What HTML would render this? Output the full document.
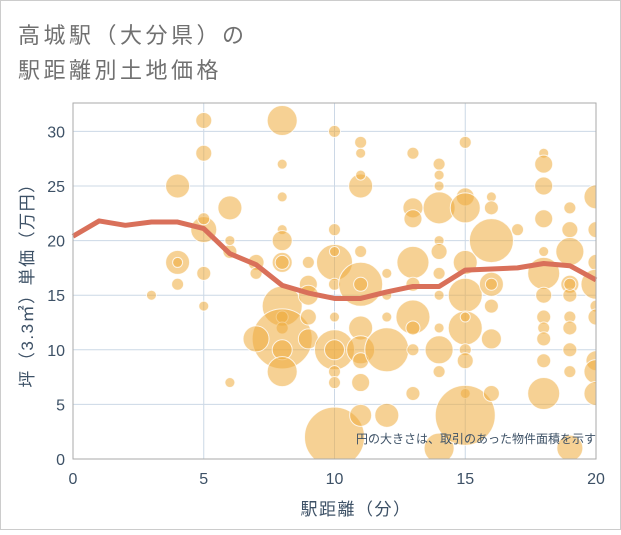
<!DOCTYPE html>
<html><head><meta charset="utf-8">
<style>
body{margin:0;background:#fff;font-family:"Liberation Sans","Noto Sans CJK JP",sans-serif;}
#wrap{position:relative;width:621px;height:530px;}
</style></head>
<body>
<div id="wrap">
<svg id="chart" width="621" height="530">
  <rect x="0.5" y="0.5" width="620" height="529" fill="#fff" stroke="#ccc"/>
  <text x="18" y="43" font-size="22" letter-spacing="3.5" fill="#707070">高城駅（大分県）の</text>
  <text x="18" y="78" font-size="22" letter-spacing="3.5" fill="#707070">駅距離別土地価格</text>
  <g id="grid"></g>
  <g id="bubbles"></g>
  <g id="line"></g>
  <g id="axes"></g>
  <text x="596" y="443" font-size="12" fill="#3d5166" text-anchor="end">円の大きさは、取引のあった物件面積を示す</text>
  <text x="356" y="515" font-size="17" letter-spacing="1.5" fill="#3d5166" text-anchor="middle">駅距離（分）</text>
  <text transform="translate(33,281) rotate(-90)" font-size="17" letter-spacing="1.5" fill="#3d5166" text-anchor="middle">坪（3.3㎡）単価（万円）</text>
</svg>
</div>
<script>
const xTicks=[0,5,10,15,20];
const yTicks=[0,5,10,15,20,25,30];
const lineX=[0,1,2,3,4,5,6,7,8,9,10,11,12,13,14,15,16,17,18,19,20];
const lineY=[20.4,21.8,21.4,21.7,21.7,21.1,18.8,17.8,15.9,15.2,14.7,14.7,15.3,15.8,15.8,17.3,17.4,17.5,17.9,17.7,16.4];
const bubbleX=[3,4,4,4,4,5,5,5,5,5,5,6,6,6,6,7,7,8,8,8,8,8,8,8,8,8,8,8,8,8,7,9,9,9,9,9,10,10,10,10,10,10,10,10,10,10,10,11,11,11,11,11,11,11,11,11,11,11,11,12,12,12,12,12,13,13,13,13,13,13,13,13,13,14,14,14,14,14,14,14,14,14,14,14,14,15,15,15,15,15,15,15,15,15,15,15,16,16,16,16,16,16,16,16,17,18,18,18,18,18,18,18,18,18,18,18,18,19,19,19,19,19,19,19,19,19,19,19,20,20,20,20,20,20,20,20,20];
const bubbleY=[15,25,18,18,16,31,28,21,22,17,14,23,19,20,7,18,17,31,27,24,21,20,18,18,14,13,12,11,10,8,11,16,15,13,11,18,30,21,18,19,16,13,10,10,8,7,2,29,28,25,26,19,16,16,12,10,9,7,4,10,17,15,13,4,28,23,22,18,16,13,12,10,6,27,26,25,23,20,19,17,15,12,10,8,1,29,24,23,18,15,12,13,10,9,6,4,20,24,23,16,16,14,11,6,21,28,27,25,22,19,17,15,13,12,11,9,6,23,21,19,16,15,13,12,10,8,1,16,24,21,18,16,14,13,9,8,6];
const bubbleSize=[5,12,12,5,6,8,8,13,6,7,5,12,7,5,5,8,6,15,5,5,5,10,10,7,20,6,6,30,10,15,13,9,10,8,10,6,6,6,18,5,6,5,20,10,6,6,30,6,5,12,5,6,22,7,12,14,8,9,11,22,5,5,5,12,6,10,9,16,7,17,7,6,7,6,5,5,16,5,8,6,5,5,14,6,15,6,9,15,12,17,17,5,6,8,5,30,22,5,7,12,6,7,10,8,6,5,9,9,9,5,16,8,7,6,7,7,16,6,8,14,9,7,6,7,7,6,13,6,12,8,8,15,6,8,10,12,12];
const L=73,R=596,T=103,B=459,XMAX=20,YMAX=32.6;
const xs=v=>L+(R-L)*v/XMAX;
const ys=v=>B-(B-T)*v/YMAX;
const NS="http://www.w3.org/2000/svg";
function mk(tag,attrs,parent){const e=document.createElementNS(NS,tag);for(const k in attrs)e.setAttribute(k,attrs[k]);parent.appendChild(e);return e;}
const grid=document.getElementById('grid'),axes=document.getElementById('axes');
for(const t of xTicks){
  const g=mk('line',{x1:xs(t),x2:xs(t),y1:T,y2:B,stroke:'#ccd8e6','stroke-width':1},grid);
  
  
  const tx=mk('text',{x:xs(t),y:B+25,'font-size':16,fill:'#3d5166','text-anchor':'middle'},axes);
  tx.textContent=t;
  
  
}
for(const t of yTicks){
  const g=mk('line',{x1:L,x2:R,y1:ys(t),y2:ys(t),stroke:'#ccd8e6','stroke-width':1},grid);
  
  
  const tx=mk('text',{x:L-8,y:ys(t)+6,'font-size':16,fill:'#3d5166','text-anchor':'end'},axes);
  tx.textContent=t;
  
  
}
const frame=mk('rect',{x:L,y:T,width:R-L,height:B-T,fill:'none',stroke:'#aaa','stroke-width':1},axes);


const bg=document.getElementById('bubbles');
const cp=mk('clipPath',{id:'clip'},bg);mk('rect',{x:L,y:T,width:R-L,height:B-T},cp);
bg.setAttribute('clip-path','url(#clip)');
for(let i=0;i<bubbleX.length;i++){
  const c=mk('circle',{cx:xs(bubbleX[i]),cy:ys(bubbleY[i]),r:bubbleSize[i],fill:'rgba(238,172,60,0.55)',stroke:'rgba(255,255,255,0.8)','stroke-width':1},bg);
  
  
}
const pts=lineX.map((x,i)=>xs(x)+','+ys(lineY[i])).join(' ');
const pl=mk('polyline',{points:pts,fill:'none',stroke:'#d9705a','stroke-width':5,'stroke-linejoin':'round'},document.getElementById('line'));


</script>
</body></html>
